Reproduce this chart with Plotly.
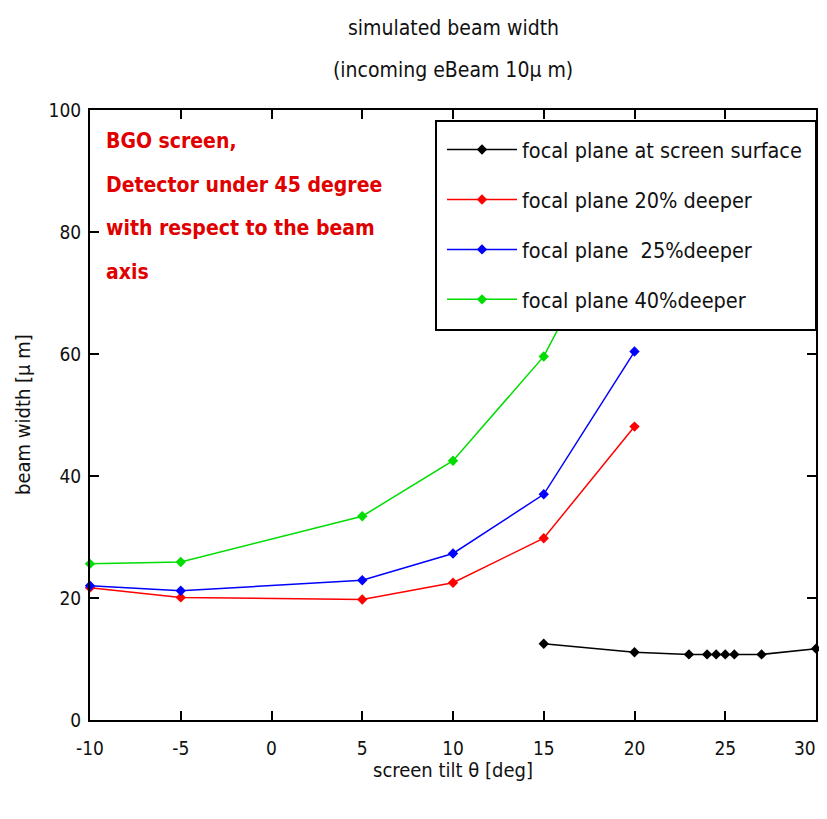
import plotly.graph_objects as go

# ---- data ----
tilt_surface = [15, 20, 23, 24, 24.5, 25, 25.5, 27, 30]
width_surface = [12.5, 11.1, 10.75, 10.75, 10.75, 10.75, 10.75, 10.75, 11.7]

tilt_deeper = [-10, -5, 5, 10, 15, 20]
width_20 = [21.7, 20.1, 19.75, 22.5, 29.8, 48.1]
width_25 = [22.0, 21.2, 22.9, 27.3, 37.0, 60.4]
width_40 = [25.6, 25.9, 33.4, 42.5, 59.6, 88.0]

series_names = [
    "focal plane at screen surface",
    "focal plane 20% deeper",
    "focal plane  25%deeper",
    "focal plane 40%deeper",
]
series_colors = ["#000000", "#ff0000", "#0000ff", "#00dd00"]

x_ticks = [-10, -5, 0, 5, 10, 15, 20, 25, 30]
# the last label sits at the page edge, so it is drawn as a right-aligned annotation
x_tick_labels = ["-10", "-5", "0", "5", "10", "15", "20", "25", ""]
x_last_label = "30"
y_ticks = [0, 20, 40, 60, 80, 100]

title_lines = ["simulated beam width", "(incoming eBeam 10\u00b5 m)"]
note_lines = ["BGO screen,", "Detector under 45 degree",
              "with respect to the beam", "axis"]

FONT = "DejaVu Sans Condensed, Liberation Sans Narrow, sans-serif"

fig = go.Figure()
xs = [tilt_surface, tilt_deeper, tilt_deeper, tilt_deeper]
ys = [width_surface, width_20, width_25, width_40]
for i, (x, y) in enumerate(zip(xs, ys)):
    fig.add_trace(go.Scatter(
        x=x, y=y, mode="lines+markers", name=series_names[i],
        legendgroup=f"g{i}",
        line=dict(color=series_colors[i], width=1.5),
        marker=dict(symbol="diamond", size=8, color=series_colors[i]),
        cliponaxis=False,
    ))

# page has an 8px body margin; plot area lands at x 90..816, y 110..720
PH = 610.0
PW = 726.0

def px_x(p):
    return (p - 90) / PW

def px_y(p):
    return (720 - p) / PH

annotations = []
for t, py in zip(title_lines, [28, 70]):
    annotations.append(dict(
        text=t, xref="paper", yref="paper", x=0.5, y=px_y(py),
        xanchor="center", yanchor="middle", showarrow=False,
        font=dict(family=FONT, size=21, color="#111111")))
for t, py in zip(note_lines, [141, 185, 228, 272]):
    annotations.append(dict(
        text=f"<b>{t}</b>", xref="paper", yref="paper",
        x=px_x(104), y=px_y(py),
        xanchor="left", yanchor="middle", showarrow=False,
        font=dict(family=FONT, size=21, color="#e00000")))
annotations.append(dict(
    text="screen tilt \u03b8 [deg]", xref="paper", yref="paper",
    x=0.5, y=px_y(770), xanchor="center", yanchor="middle",
    showarrow=False, font=dict(family=FONT, size=20, color="#111111")))
annotations.append(dict(
    text="beam width [\u00b5 m]", xref="paper", yref="paper",
    x=px_x(23), y=0.5, xanchor="center", yanchor="middle",
    textangle=-90, showarrow=False,
    font=dict(family=FONT, size=20, color="#111111")))
annotations.append(dict(
    text=x_last_label, xref="x", yref="paper",
    x=x_ticks[-1], y=px_y(748), xanchor="right", yanchor="middle",
    xshift=2, showarrow=False,
    font=dict(family=FONT, size=19, color="#111111")))

# legend frame (opaque, hides the part of the curves behind it)
legend_box = dict(
    type="rect", xref="paper", yref="paper",
    x0=px_x(436), x1=1.0, y0=px_y(330), y1=px_y(121),
    fillcolor="white", line=dict(color="black", width=2), layer="above",
)

fig.update_layout(
    width=819, height=803,
    margin=dict(l=82, r=11, t=102, b=91, autoexpand=False),
    paper_bgcolor="white", plot_bgcolor="white",
    font=dict(family=FONT, size=19, color="#111111"),
    showlegend=True,
    legend=dict(
        x=px_x(442), xanchor="left", y=px_y(129), yanchor="top",
        bgcolor="rgba(0,0,0,0)", borderwidth=0,
        font=dict(family=FONT, size=21.5, color="#111111"),
        itemwidth=70, tracegroupgap=19,
    ),
    annotations=annotations,
    shapes=[legend_box],
)
fig.update_xaxes(
    range=[-10, 30], tickvals=x_ticks, ticktext=x_tick_labels,
    showline=True, linecolor="black", linewidth=2, mirror="ticks",
    ticks="inside", ticklen=9, tickwidth=1.5, tickcolor="black",
    showgrid=False, zeroline=False, automargin=False,
    ticklabelstandoff=10,
)
fig.update_yaxes(
    range=[0, 100], tickvals=y_ticks, ticktext=[str(v) for v in y_ticks],
    showline=True, linecolor="black", linewidth=2, mirror="ticks",
    ticks="inside", ticklen=9, tickwidth=1.5, tickcolor="black",
    showgrid=False, zeroline=False, automargin=False,
    ticklabelstandoff=3,
)

fig.write_html("out.html")
